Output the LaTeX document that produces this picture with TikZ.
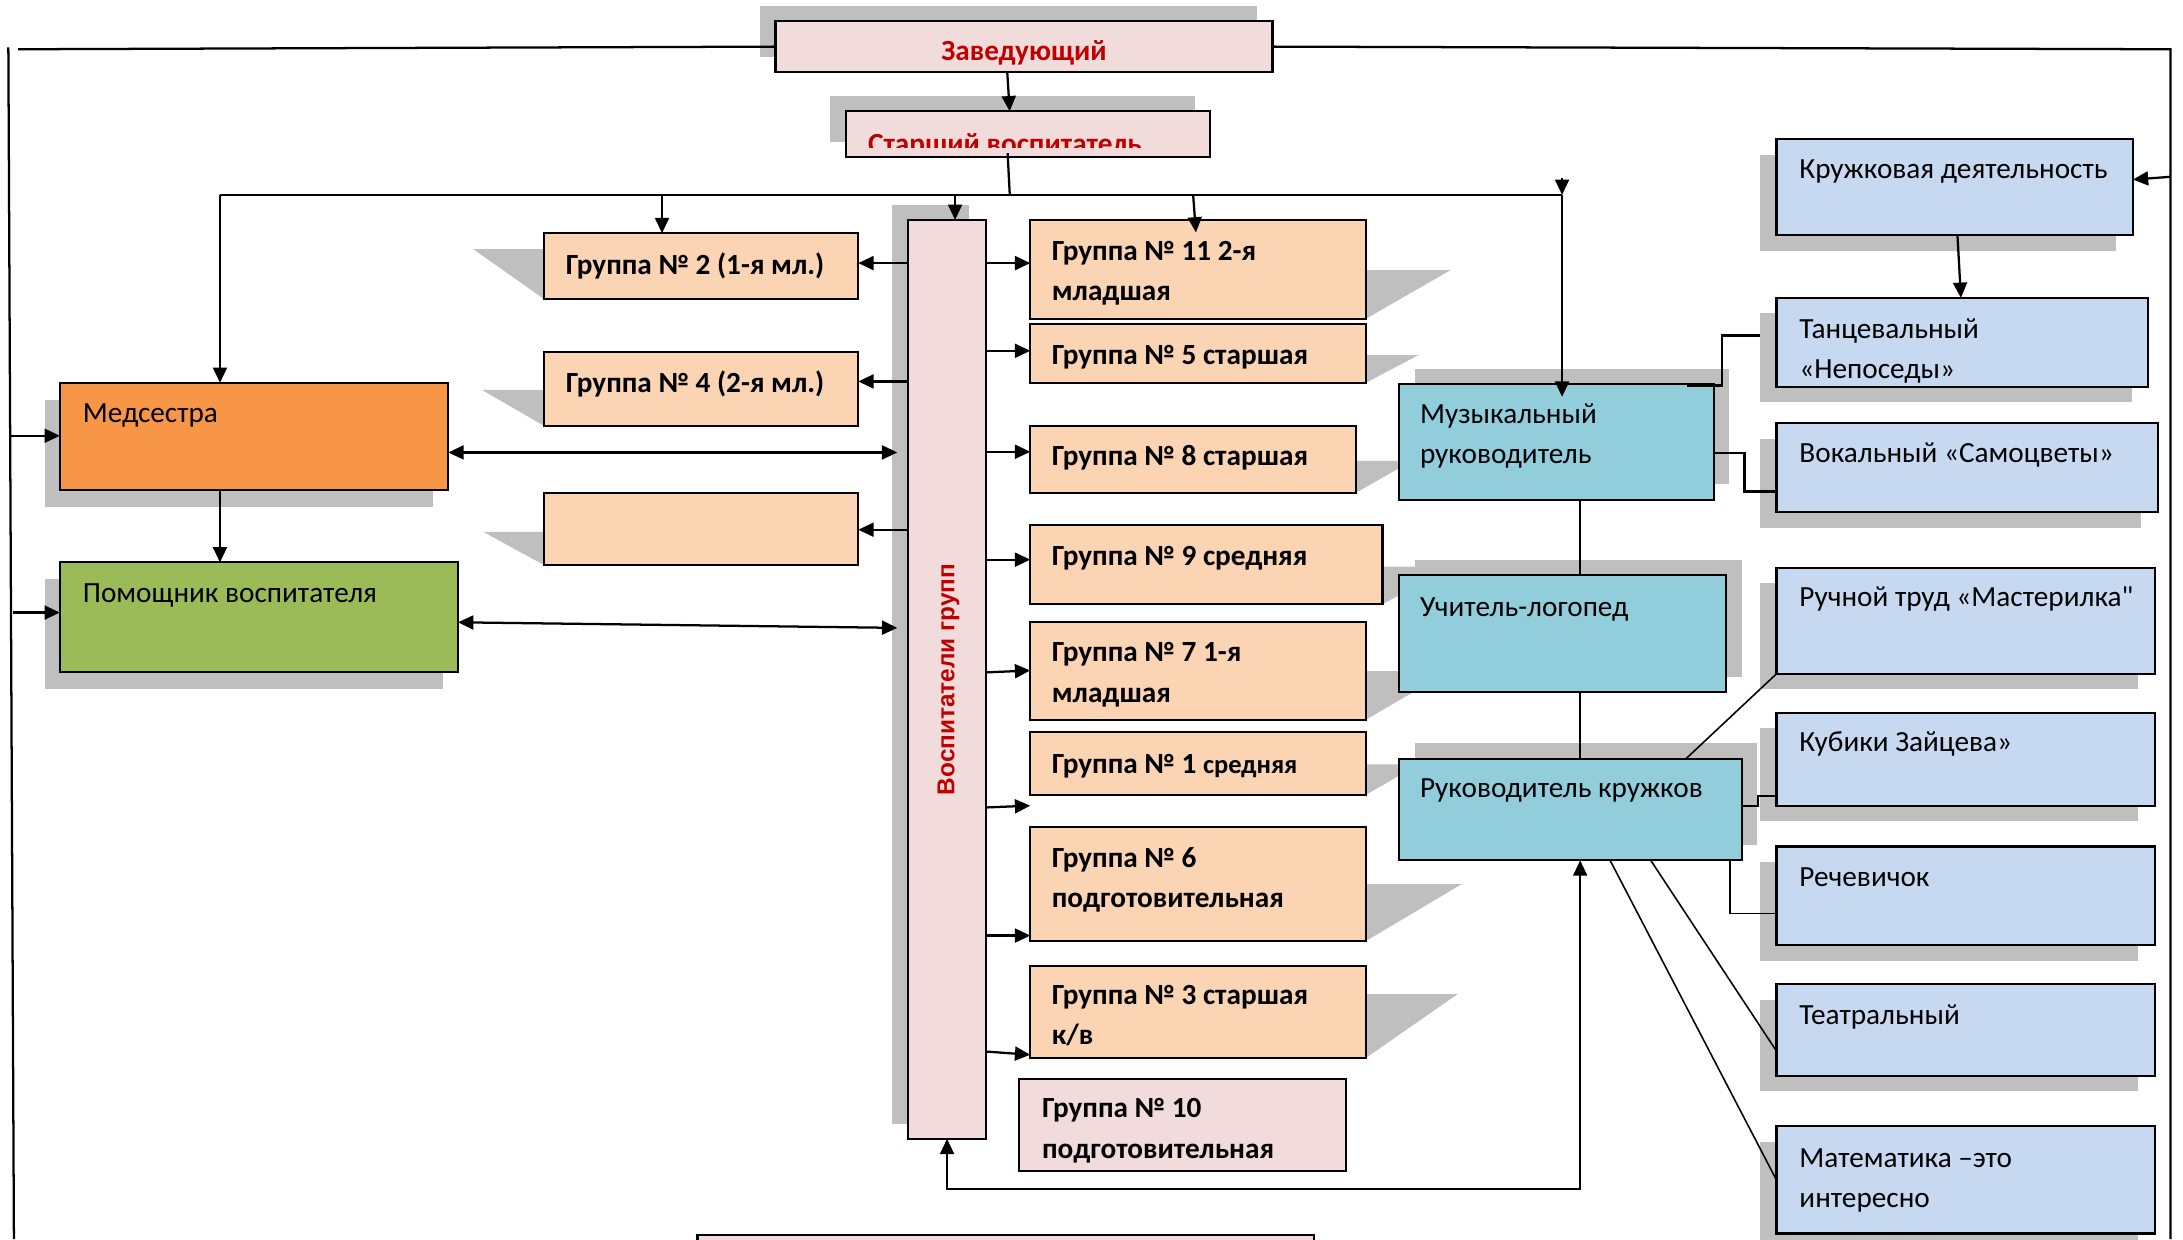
\documentclass[tikz,border=0pt]{standalone}
\usepackage{fontspec}
\setmainfont{Carlito}[Ligatures=TeXOff]
\newfontfamily\arialf{Liberation Sans}
\usetikzlibrary{arrows.meta,calc}
\definecolor{pinkf}{HTML}{F2DCDB}
\definecolor{peach}{HTML}{FBD4B4}
\definecolor{orng}{HTML}{F79646}
\definecolor{grn}{HTML}{9BBB59}
\definecolor{tealf}{HTML}{92CDDC}
\definecolor{blu}{HTML}{C6D9F1}
\definecolor{redt}{HTML}{C00000}
\definecolor{shadowc}{HTML}{BFBFBF}
\newcommand\shdr[4]{\fill[shd] (#1,#2) rectangle (#3,#4);}
\newcommand\shtri[4]{\fill[shd] (#1,#2) -- (#3,#2) -- (#1,#4) -- cycle;}
\newcommand\bxn[6]{\node[bx,fill=#6,minimum width={(#4-#2)*0.4pt},minimum height={(#5-#3)*0.4pt}] (#1) at (#2,#3) {};}
\newcommand\two[2]{\vtop{\hbox{#1}\hbox{#2}}}
\begin{document}
\begin{tikzpicture}[x=0.4pt,y=-0.4pt,
  bx/.style={draw=black,line width=0.6pt,inner sep=0pt,outer sep=0pt,anchor=north west},
  shd/.style={fill=shadowc},
  con/.style={line width=0.65pt},
  fine/.style={line width=0.45pt},
  arr/.style={con,-{Triangle[length=4.4pt,width=4pt]}},
  darr/.style={con,{Triangle[length=4.4pt,width=4pt]}-{Triangle[length=4.4pt,width=4pt]}},
  lbl/.style={anchor=base west,inner sep=0pt,font=\fontsize{8.4}{11.6}\selectfont},
  blbl/.style={anchor=base west,inner sep=0pt,font=\fontsize{8.4}{11.6}\selectfont\bfseries},
]
\useasboundingbox (0,0) rectangle (1568,890);
\clip (0,0) rectangle (1568,890);

% ---------- shadows ----------
\shdr{546}{4}{903}{41}
\shdr{596.5}{69}{858}{102}
\shdr{640.5}{147}{696}{807}
\shdr{32}{287}{311}{364}
\shdr{32}{416}{318}{495}
\shdr{1016}{265}{1242}{348}
\shdr{1016}{402}{1251}{486}
\shdr{1016}{534}{1262}{607}
\shdr{1264}{111}{1520}{180}
\shdr{1264}{225}{1531}{289}
\shdr{1264}{315}{1538}{379}
\shdr{1264}{419}{1536}{495}
\shdr{1264}{523}{1536}{590}
\shdr{1264}{619}{1536}{690}
\shdr{1264}{718}{1536}{784}
\shdr{1264}{820}{1536}{897}
\shtri{391}{179}{340}{215}
\shtri{391}{280}{346}{306}
\shtri{391}{382}{347}{406}
\shtri{981}{194}{1042}{229}
\shtri{981}{255}{1019}{275}
\shtri{974}{331}{1014}{354}
\shtri{993}{407}{1043}{434}
\shtri{981}{482}{1041}{517}
\shtri{981}{549}{1019}{571}
\shtri{981}{635}{1050}{676}
\shtri{981}{714}{1047}{760}

% ---------- boxes ----------
\bxn{zav}{557}{15}{914}{52}{pinkf}
\bxn{star}{607.5}{80}{869}{113}{pinkf}
\bxn{vosp}{652.5}{158}{708}{818}{pinkf}
\bxn{gr2}{391}{167.5}{616.5}{215}{peach}
\bxn{gr4}{391}{253}{616.5}{306}{peach}
\bxn{emp}{391}{354}{616.5}{406}{peach}
\bxn{gr11}{740}{158}{981}{229}{peach}
\bxn{gr5}{740}{233}{981}{275}{peach}
\bxn{gr8}{740}{306}{974}{354}{peach}
\bxn{gr9}{740}{377}{993}{434}{peach}
\bxn{gr7}{740}{447}{981}{517}{peach}
\bxn{gr1}{740}{526}{981}{571}{peach}
\bxn{gr6}{740}{594}{981}{676}{peach}
\bxn{gr3}{740}{694}{981}{760}{peach}
\bxn{gr10}{732}{775}{967}{841}{pinkf}
\bxn{bot}{501}{887}{944}{905}{pinkf}
\bxn{med}{43}{275}{322}{352}{orng}
\bxn{pom}{43}{404}{329}{483}{grn}
\bxn{mus}{1005}{276}{1231}{359}{tealf}
\bxn{uch}{1005}{413}{1240}{497}{tealf}
\bxn{ruk}{1005}{545}{1251}{618}{tealf}
\bxn{kru}{1276}{100}{1532}{169}{blu}
\bxn{tan}{1276}{214}{1543}{278}{blu}
\bxn{vok}{1276}{304}{1550}{368}{blu}
\bxn{ruc}{1276}{408}{1548}{484}{blu}
\bxn{kub}{1276}{512}{1548}{579}{blu}
\bxn{rech}{1276}{608}{1548}{679}{blu}
\bxn{teat}{1276}{707}{1548}{773}{blu}
\bxn{mat}{1276}{809}{1548}{886}{blu}

% ---------- texts ----------
\node[blbl,anchor=base,text=redt] (tzav) at ($(zav.north)+(0,28.5)$) {Заведующий};
\begin{scope}
\clip (star.north west) rectangle ($(star.south east)+(0,-7)$);
\node[blbl,text=redt] (tstar) at ($(star.north west)+(15.5,30)$) {Старший воспитатель};
\end{scope}
\node[rotate=90,inner sep=0pt,font=\arialf\fontsize{7}{8}\selectfont\bfseries,text=redt] (tvosp) at ($(vosp.center)+(1,0)$) {Воспитатели групп};
\node[blbl] (tgr2) at ($(gr2.north west)+(15,29.5)$) {Группа № 2 (1-я мл.)};
\node[blbl] (tgr4) at ($(gr4.north west)+(15,29)$) {Группа № 4 (2-я мл.)};
\node[blbl] (tgr11) at ($(gr11.north west)+(15,29)$) {\two{Группа № 11 2-я}{младшая}};
\node[blbl] (tgr5) at ($(gr5.north west)+(15,29)$) {Группа № 5 старшая};
\node[blbl] (tgr8) at ($(gr8.north west)+(15,28.5)$) {Группа № 8 старшая};
\node[blbl] (tgr9) at ($(gr9.north west)+(15,29)$) {Группа № 9 средняя};
\node[blbl] (tgr7) at ($(gr7.north west)+(15,28.5)$) {\two{Группа № 7 1-я}{младшая}};
\node[blbl] (tgr1) at ($(gr1.north west)+(15,29.5)$) {Группа № 1 {\fontsize{7.6}{10}\selectfont средняя}};
\node[blbl] (tgr6) at ($(gr6.north west)+(15,29)$) {\two{Группа № 6}{подготовительная}};
\node[blbl] (tgr3) at ($(gr3.north west)+(15,27.5)$) {\two{Группа № 3 старшая}{к/в}};
\node[blbl] (tgr10) at ($(gr10.north west)+(16,28)$) {\two{Группа № 10}{подготовительная}};
\node[lbl] (tmed) at ($(med.north west)+(16,28.5)$) {Медсестра};
\node[lbl] (tpom) at ($(pom.north west)+(16,28.5)$) {Помощник воспитателя};
\node[lbl] (tmus) at ($(mus.north west)+(14.5,28)$) {\two{Музыкальный}{руководитель}};
\node[lbl] (tuch) at ($(uch.north west)+(14.5,29.5)$) {Учитель-логопед};
\node[lbl] (truk) at ($(ruk.north west)+(14.5,27.5)$) {Руководитель кружков};
\node[lbl] (tkru) at ($(kru.north west)+(16,28.5)$) {Кружковая деятельность};
\node[lbl] (ttan) at ($(tan.north west)+(16,29)$) {\two{Танцевальный}{«Непоседы»}};
\node[lbl] (tvok) at ($(vok.north west)+(16,28)$) {Вокальный «Самоцветы»};
\node[lbl] (truc) at ($(ruc.north west)+(16,27.5)$) {Ручной труд «Мастерилка"};
\node[lbl] (tkub) at ($(kub.north west)+(16,28)$) {Кубики Зайцева»};
\node[lbl] (trech) at ($(rech.north west)+(16,29)$) {Речевичок};
\node[lbl] (tteat) at ($(teat.north west)+(16,29)$) {Театральный};
\node[lbl] (tmat) at ($(mat.north west)+(16,29.5)$) {\two{Математика –это}{интересно}};

% ---------- connectors ----------
\coordinate (jn) at (725.3,140);
\coordinate (busL) at (158,140);
\coordinate (busR) at (1122,140);
\coordinate (b2) at (475.5,140);
\coordinate (bv) at (686,140);
\coordinate (b11) at (857,140);
\coordinate (Ltop) at (6,34);
\coordinate (Lbot) at (10,890);
\coordinate (Ttop) at (13,35.4);
\coordinate (Rtop) at (1559,35.4);
\coordinate (Rbot) at (1559,890);

\draw[arr] ($(zav.south)+(-12,0)$) -- ($(star.north)+(-13,0)$);
\draw[con] ($(star.south)+(-14.5,-3)$) -- (jn);
\draw[con] (busL) -- (busR);
\draw[arr] (busL) -- (busL |- med.north);
\draw[arr] (b2) -- (b2 |- gr2.north);
\draw[arr] (bv) -- (bv |- vosp.north);
\draw[arr] (b11) -- ($(gr11.north west)+(119,9)$);
\draw[arr] ($(busR)+(0,-12)$) -- (busR);
\draw[arr] (busR) -- ($(busR |- mus.north)+(0,9)$);

\draw[con] (Ltop) -- (Lbot);
\draw[con] (Ttop) -- (zav.west);
\draw[con] (zav.east) -- (Rtop) -- (Rbot);
\draw[arr] ($(med.north west)+(-35,38)$) -- ($(med.north west)+(0,38)$);
\draw[arr] ($(pom.north west)+(-34,36)$) -- ($(pom.north west)+(0,36)$);
\draw[arr] (busL |- med.south) -- (busL |- pom.north);
\draw[darr] ($(med.north east)+(0,50)$) -- ($(vosp.west |- med.north)+(-8,50)$);
\draw[darr] ($(pom.north east)+(0,43)$) -- ($(vosp.west |- pom.north)+(-8,47)$);

\draw[arr] ($(vosp.west |- gr2.north)+(0,21.5)$) -- ($(gr2.north east)+(0,21.5)$);
\draw[arr] ($(vosp.west |- gr4.north)+(0,21)$) -- ($(gr4.north east)+(0,21)$);
\draw[arr] ($(vosp.west |- emp.north)+(0,26.5)$) -- ($(emp.north east)+(0,26.5)$);

\draw[arr] ($(vosp.east |- gr11.north)+(0,31)$) -- ($(gr11.north west)+(0,31)$);
\draw[arr] ($(vosp.east |- gr5.north)+(0,19)$) -- ($(gr5.north west)+(0,19)$);
\draw[arr] ($(vosp.east |- gr8.north)+(0,18.5)$) -- ($(gr8.north west)+(0,18.5)$);
\draw[arr] ($(vosp.east |- gr9.north)+(0,25)$) -- ($(gr9.north west)+(0,25)$);
\draw[arr] ($(vosp.east |- gr7.north)+(0,36)$) -- ($(gr7.north west)+(0,34.6)$);
\draw[arr] ($(vosp.east |- gr1.south)+(0,9)$) -- ($(gr1.south west)+(0,7.7)$);
\draw[arr] ($(vosp.east |- gr6.north)+(0,78)$) -- ($(gr6.north west)+(0,78)$);
\draw[arr] ($(vosp.east |- gr3.north)+(0,61.3)$) -- ($(gr3.north west)+(0,63.6)$);

\draw[fine] ($(mus.south west)+(130,0)$) -- ($(uch.north west)+(130,0)$);
\draw[fine] ($(uch.south west)+(130,0)$) -- ($(ruk.north west)+(130,0)$);
\draw[darr] ($(ruk.south west)+(130,0)$) -- ($(ruk.south west)+(130,236)$) -| (vosp.south);

\draw[arr] ($(Rtop |- kru.north)+(0,27)$) -- ($(kru.north east)+(0,29)$);
\draw[arr] ($(kru.south west)+(130,0)$) -- ($(tan.north west)+(132.5,0)$);

\draw[con] ($(mus.north east)+(-19,1)$) -- ++(25,0) |- ($(tan.north west)+(-12,27)$);
\draw[con] ($(mus.north east)+(0,49.6)$) -- ++(22,0) |- ($(vok.north west)+(0,49)$);
\draw[fine] ($(ruk.north west)+(206,0)$) -- (ruc.south west);
\draw[fine] ($(ruk.north east)+(0,33.8)$) -- ++(11.6,0) |- ($(kub.north west)+(0,59.6)$);
\draw[fine] ($(ruk.south east)+(-8.5,0)$) |- ($(rech.north west)+(0,48)$);
\draw[fine] ($(ruk.south west)+(180.7,0)$) -- ($(teat.north west)+(0,48)$);
\draw[fine] ($(ruk.south west)+(151.5,0)$) -- ($(mat.north west)+(0,38.6)$);
\end{tikzpicture}
\end{document}
